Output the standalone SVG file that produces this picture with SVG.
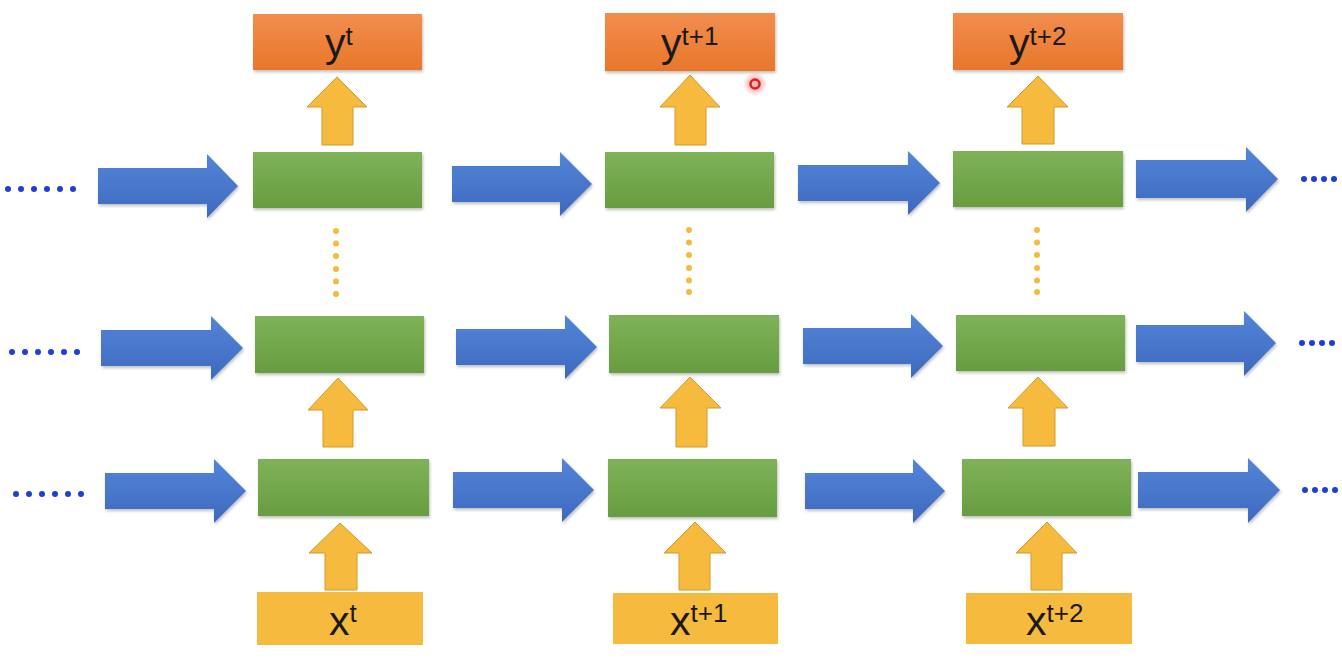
<svg xmlns="http://www.w3.org/2000/svg" width="1342" height="660" viewBox="0 0 1342 660">
<defs>
<linearGradient id="gGreen" x1="0" y1="0" x2="0" y2="1"><stop offset="0" stop-color="#80B259"/><stop offset="1" stop-color="#679D40"/></linearGradient>
<linearGradient id="gOrange" x1="0" y1="0" x2="0" y2="1"><stop offset="0" stop-color="#F28D4E"/><stop offset="1" stop-color="#E8772B"/></linearGradient>
<linearGradient id="gBlue" x1="0" y1="0" x2="0" y2="1"><stop offset="0" stop-color="#5385D8"/><stop offset="1" stop-color="#3D69BE"/></linearGradient>
<filter id="sh" x="-10%" y="-20%" width="120%" height="150%"><feDropShadow dx="1" dy="2" stdDeviation="1.5" flood-color="#000" flood-opacity="0.25"/></filter>
<radialGradient id="gCur"><stop offset="0.4" stop-color="#F07878" stop-opacity="0.55"/><stop offset="1" stop-color="#F07878" stop-opacity="0"/></radialGradient>
<style>
.green{fill:url(#gGreen);filter:url(#sh)}
.orange{fill:url(#gOrange);filter:url(#sh)}
.xin{fill:#F5BA3E}
.ya{fill:#F5BA3E;stroke:#D29A2A;stroke-width:1}
.ba{fill:url(#gBlue);filter:url(#sh)}
.bd{fill:#1E3FD6}
.od{fill:#F5BA3E}
.lbl{font-family:"Liberation Sans",Arial,sans-serif;fill:#1A1A1A}
.main{font-size:41px}
.sup{font-size:26px}
</style>
</defs>
<rect width="1342" height="660" fill="#FFFFFF"/>

<!-- output nodes -->
<g id="y1"><rect class="orange" x="253" y="14" width="169" height="56"/><text class="lbl" x="325" y="57"><tspan class="main">y</tspan><tspan class="sup" dy="-12">t</tspan></text></g>
<g id="y2"><rect class="orange" x="605" y="13" width="170" height="58"/><text class="lbl" x="661" y="57"><tspan class="main">y</tspan><tspan class="sup" dy="-12">t+1</tspan></text></g>
<g id="y3"><rect class="orange" x="953" y="13" width="170" height="57"/><text class="lbl" x="1009" y="57"><tspan class="main">y</tspan><tspan class="sup" dy="-12">t+2</tspan></text></g>

<!-- hidden layer nodes -->
<g id="h11"><rect class="green" x="253" y="152" width="169" height="56"/></g>
<g id="h12"><rect class="green" x="605" y="152" width="169" height="56"/></g>
<g id="h13"><rect class="green" x="953" y="151" width="170" height="56"/></g>
<g id="h21"><rect class="green" x="255" y="316" width="169" height="57"/></g>
<g id="h22"><rect class="green" x="609" y="315" width="170" height="58"/></g>
<g id="h23"><rect class="green" x="956" y="315" width="169" height="56"/></g>
<g id="h31"><rect class="green" x="258" y="459" width="171" height="57"/></g>
<g id="h32"><rect class="green" x="608" y="459" width="169" height="58"/></g>
<g id="h33"><rect class="green" x="962" y="459" width="169" height="57"/></g>

<!-- input nodes -->
<g id="x1"><rect class="xin" x="257" y="592" width="166" height="53"/><text class="lbl" x="329" y="635"><tspan class="main">x</tspan><tspan class="sup" dy="-13">t</tspan></text></g>
<g id="x2"><rect class="xin" x="613" y="593" width="165" height="51"/><text class="lbl" x="670" y="635"><tspan class="main">x</tspan><tspan class="sup" dy="-13">t+1</tspan></text></g>
<g id="x3"><rect class="xin" x="966" y="593" width="166" height="51"/><text class="lbl" x="1026" y="635"><tspan class="main">x</tspan><tspan class="sup" dy="-13">t+2</tspan></text></g>

<g id="connectors">
<path class="ya" d="M322,145 L322,107 L307,107 L337,77 L367,107 L353,107 L353,145 Z"/>
<path class="ya" d="M675,145 L675,107 L660,107 L690,75 L720,107 L706,107 L706,145 Z"/>
<path class="ya" d="M1022,144 L1022,107 L1007,107 L1038,76 L1068,107 L1054,107 L1054,144 Z"/>
<path class="ya" d="M323,447 L323,410 L308,410 L338,378 L368,410 L353,410 L353,447 Z"/>
<path class="ya" d="M676,447 L676,408 L660,408 L690,377 L721,408 L707,408 L707,447 Z"/>
<path class="ya" d="M1023,446 L1023,408 L1008,408 L1038,377 L1068,408 L1055,408 L1055,446 Z"/>
<path class="ya" d="M325,590 L325,553 L309,553 L340,523 L372,553 L357,553 L357,590 Z"/>
<path class="ya" d="M679,590 L679,553 L664,553 L695,522 L726,553 L710,553 L710,590 Z"/>
<path class="ya" d="M1031,590 L1031,553 L1016,553 L1047,522 L1077,553 L1062,553 L1062,590 Z"/>

<path class="ba" d="M98,168 L207,168 L207,154 L238,186 L207,218 L207,204 L98,204 Z"/>
<path class="ba" d="M452,166 L560,166 L560,152 L592,184 L560,216 L560,202 L452,202 Z"/>
<path class="ba" d="M798,165 L908,165 L908,151 L940,183 L908,215 L908,201 L798,201 Z"/>
<path class="ba" d="M1136,160 L1246,160 L1246,147 L1278,179 L1246,212 L1246,198 L1136,198 Z"/>
<path class="ba" d="M101,330 L211,330 L211,316 L243,348 L211,380 L211,366 L101,366 Z"/>
<path class="ba" d="M456,329 L565,329 L565,315 L597,347 L565,379 L565,365 L456,365 Z"/>
<path class="ba" d="M803,328 L911,328 L911,314 L943,346 L911,378 L911,364 L803,364 Z"/>
<path class="ba" d="M1136,325 L1244,325 L1244,311 L1276,343 L1244,376 L1244,362 L1136,362 Z"/>
<path class="ba" d="M105,473 L214,473 L214,459 L246,491 L214,523 L214,509 L105,509 Z"/>
<path class="ba" d="M453,472 L562,472 L562,458 L594,490 L562,522 L562,508 L453,508 Z"/>
<path class="ba" d="M805,473 L913,473 L913,459 L945,491 L913,523 L913,509 L805,509 Z"/>
<path class="ba" d="M1138,472 L1248,472 L1248,458 L1280,490 L1248,523 L1248,508 L1138,508 Z"/>

<g>
<circle class="bd" cx="8" cy="189" r="3"/><circle class="bd" cx="21" cy="189" r="3"/><circle class="bd" cx="34" cy="189" r="3"/><circle class="bd" cx="47" cy="189" r="3"/><circle class="bd" cx="60" cy="189" r="3"/><circle class="bd" cx="73" cy="189" r="3"/>
<circle class="bd" cx="12" cy="352" r="3"/><circle class="bd" cx="25" cy="352" r="3"/><circle class="bd" cx="38" cy="352" r="3"/><circle class="bd" cx="51" cy="352" r="3"/><circle class="bd" cx="64" cy="352" r="3"/><circle class="bd" cx="77" cy="352" r="3"/>
<circle class="bd" cx="16" cy="494" r="3"/><circle class="bd" cx="29" cy="494" r="3"/><circle class="bd" cx="42" cy="494" r="3"/><circle class="bd" cx="55" cy="494" r="3"/><circle class="bd" cx="68" cy="494" r="3"/><circle class="bd" cx="81" cy="494" r="3"/>
<circle class="bd" cx="1304" cy="179" r="3"/><circle class="bd" cx="1314" cy="179" r="3"/><circle class="bd" cx="1324" cy="179" r="3"/><circle class="bd" cx="1334" cy="179" r="3"/>
<circle class="bd" cx="1302" cy="343" r="3"/><circle class="bd" cx="1312" cy="343" r="3"/><circle class="bd" cx="1322" cy="343" r="3"/><circle class="bd" cx="1332" cy="343" r="3"/>
<circle class="bd" cx="1305" cy="490" r="3"/><circle class="bd" cx="1315" cy="490" r="3"/><circle class="bd" cx="1325" cy="490" r="3"/><circle class="bd" cx="1335" cy="490" r="3"/>
</g>
<g>
<circle class="od" cx="336" cy="231" r="3"/><circle class="od" cx="336" cy="243.5" r="3"/><circle class="od" cx="336" cy="256" r="3"/><circle class="od" cx="336" cy="269" r="3"/><circle class="od" cx="336" cy="281.5" r="3"/><circle class="od" cx="336" cy="294" r="3"/>
<circle class="od" cx="689" cy="230" r="3"/><circle class="od" cx="689" cy="242.5" r="3"/><circle class="od" cx="689" cy="255" r="3"/><circle class="od" cx="689" cy="268" r="3"/><circle class="od" cx="689" cy="280.5" r="3"/><circle class="od" cx="689" cy="292" r="3"/>
<circle class="od" cx="1037" cy="230" r="3"/><circle class="od" cx="1037" cy="242.5" r="3"/><circle class="od" cx="1037" cy="255" r="3"/><circle class="od" cx="1037" cy="268" r="3"/><circle class="od" cx="1037" cy="280.5" r="3"/><circle class="od" cx="1037" cy="292" r="3"/>
</g>
</g>

<circle cx="755" cy="84" r="12" fill="url(#gCur)"/>
<circle cx="755" cy="84" r="4.5" fill="none" stroke="#E02020" stroke-width="2.5"/>
</svg>
